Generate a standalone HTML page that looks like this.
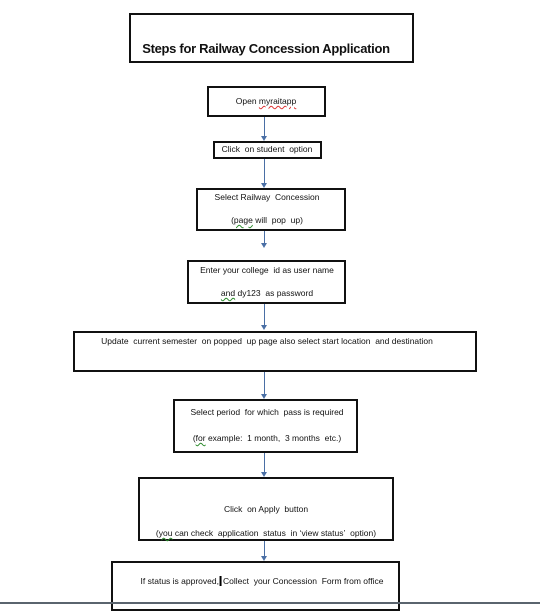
<!DOCTYPE html>
<html><head><meta charset="utf-8"><style>
html,body{margin:0;padding:0;background:#fff;}
body{width:540px;height:604px;position:relative;overflow:hidden;font-family:"Liberation Sans",sans-serif;color:#111;}
.b{position:absolute;border:2px solid #111;box-sizing:border-box;background:#fff;}
.t{position:absolute;font-size:8.5px;white-space:nowrap;transform:translateX(-50%);}
.sq{text-decoration:underline wavy #2a8a2a;text-decoration-thickness:1px;}
.sr{text-decoration:underline wavy #d33;text-decoration-thickness:1px;}
.ln{position:absolute;width:1px;background:#4a6fa5;}
.ah{position:absolute;width:0;height:0;border-left:3px solid transparent;border-right:3px solid transparent;border-top:5px solid #4a6fa5;}
</style></head><body>
<div class="b" style="left:129px;top:13px;width:285px;height:50px;"></div>
<div class="t" style="left:266px;top:41px;font-size:13px;font-weight:bold;letter-spacing:-0.3px;">Steps for Railway Concession Application</div>

<div class="b" style="left:207px;top:86px;width:119px;height:31px;"></div>
<div class="t" style="left:266px;top:96px;">Open <span class="sr">myraitapp</span></div>

<div class="b" style="left:213px;top:141px;width:109px;height:18px;"></div>
<div class="t" style="left:267px;top:144px;">Click&nbsp; on student&nbsp; option</div>

<div class="b" style="left:196px;top:188px;width:150px;height:43px;"></div>
<div class="t" style="left:267px;top:192px;">Select Railway&nbsp; Concession</div>
<div class="t" style="left:267px;top:215px;">(<span class="sq">page</span> will&nbsp; pop&nbsp; up)</div>

<div class="b" style="left:187px;top:260px;width:159px;height:44px;"></div>
<div class="t" style="left:267px;top:265px;">Enter your college&nbsp; id as user name</div>
<div class="t" style="left:267px;top:288px;"><span class="sq">and</span> dy123&nbsp; as password</div>

<div class="b" style="left:73px;top:331px;width:404px;height:41px;"></div>
<div class="t" style="left:267px;top:336px;">Update&nbsp; current semester&nbsp; on popped&nbsp; up page also select start location&nbsp; and destination</div>

<div class="b" style="left:173px;top:399px;width:185px;height:54px;"></div>
<div class="t" style="left:267px;top:407px;">Select period&nbsp; for which&nbsp; pass is required</div>
<div class="t" style="left:267px;top:433px;">(<span class="sq">for</span> example:&nbsp; 1 month,&nbsp; 3 months&nbsp; etc.)</div>

<div class="b" style="left:138px;top:477px;width:256px;height:64px;"></div>
<div class="t" style="left:266px;top:504px;">Click&nbsp; on Apply&nbsp; button</div>
<div class="t" style="left:266px;top:528px;">(<span class="sq">you</span> can check&nbsp; application&nbsp; status&nbsp; in ‘view status’&nbsp; option)</div>

<div class="b" style="left:111px;top:561px;width:289px;height:50px;"></div>
<div class="t" style="left:262px;top:576px;">If status is approved,<span style="border-left:2px solid #000;margin:0 1px;"></span>Collect&nbsp; your Concession&nbsp; Form from office</div>

<div class="ln" style="left:264px;top:117px;height:20px;"></div><div class="ah" style="left:261px;top:136px;"></div>
<div class="ln" style="left:264px;top:159px;height:25px;"></div><div class="ah" style="left:261px;top:183px;"></div>
<div class="ln" style="left:264px;top:231px;height:14px;"></div><div class="ah" style="left:261px;top:243px;"></div>
<div class="ln" style="left:264px;top:304px;height:23px;"></div><div class="ah" style="left:261px;top:325px;"></div>
<div class="ln" style="left:264px;top:372px;height:23px;"></div><div class="ah" style="left:261px;top:394px;"></div>
<div class="ln" style="left:264px;top:453px;height:20px;"></div><div class="ah" style="left:261px;top:472px;"></div>
<div class="ln" style="left:264px;top:541px;height:16px;"></div><div class="ah" style="left:261px;top:556px;"></div>

<div style="position:absolute;left:0;top:602px;width:540px;height:2px;background:#5a646e;"></div>
</body></html>
